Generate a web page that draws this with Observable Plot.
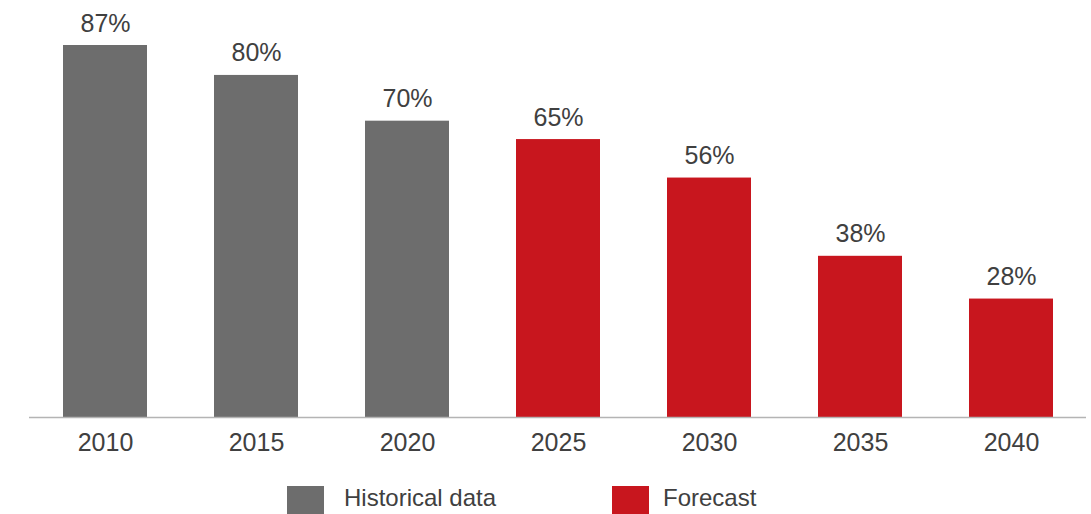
<!DOCTYPE html>
<html>
<head>
<meta charset="utf-8">
<script src="https://cdn.jsdelivr.net/npm/d3@7"></script>
<script src="https://cdn.jsdelivr.net/npm/@observablehq/plot@0.6"></script>
<style>
  body { margin: 0; background: #fff; font-family: "Liberation Sans", Arial, sans-serif; }
  #wrap { position: relative; width: 1091px; height: 514px; overflow: hidden; }
  .sw { position: absolute; width: 37px; height: 30px; }
  .lt { position: absolute; top: 484px; font-size: 24px; line-height: 28px; color: #404040; white-space: nowrap; }
</style>
</head>
<body>
<div id="wrap"></div>
<script>
const years = ["2010", "2015", "2020", "2025", "2030", "2035", "2040"];
const shares = [87, 80, 69.3, 65, 56, 37.7, 27.7];
const shareLabels = ["87%", "80%", "70%", "65%", "56%", "38%", "28%"];
const groups = ["Historical data", "Historical data", "Historical data", "Forecast", "Forecast", "Forecast", "Forecast"];
const seriesNames = ["Historical data", "Forecast"];
const seriesColors = ["#6d6d6d", "#c8161e"];

const data = years.map((y, i) => ({year: y, value: shares[i], label: shareLabels[i], group: groups[i]}));

const chart = Plot.plot({
  width: 1091,
  height: 470,
  marginLeft: 29,
  marginRight: 5,
  marginTop: 45,
  marginBottom: 53,
  style: {fontFamily: "Liberation Sans, Arial, sans-serif", fontSize: "25px", color: "#404040", background: "#fff"},
  x: {domain: years, paddingInner: 0.444, paddingOuter: 0.222, label: null},
  y: {domain: [0, 87], axis: null},
  color: {domain: seriesNames, range: seriesColors},
  marks: [
    Plot.barY(data, {x: "year", y: "value", fill: "group"}),
    Plot.ruleY([0], {stroke: "#b4b4b4", strokeWidth: 1.5}),
    Plot.text(data, {x: "year", y: "value", text: "label", dy: -22, fill: "#404040", fontSize: 25}),
    Plot.axisX({tickSize: 0, tickPadding: 16, fontSize: 25, fill: "#404040", label: null})
  ]
});
const wrap = document.getElementById("wrap");
wrap.appendChild(chart);

const legendPos = [{sw: 287, tx: 344}, {sw: 612, tx: 663}];
seriesNames.forEach((name, i) => {
  const s = document.createElement("div");
  s.className = "sw";
  s.style.left = legendPos[i].sw + "px";
  s.style.top = "486px";
  s.style.background = seriesColors[i];
  wrap.appendChild(s);
  const t = document.createElement("div");
  t.className = "lt";
  t.style.left = legendPos[i].tx + "px";
  t.textContent = name;
  wrap.appendChild(t);
});
</script>
</body>
</html>
